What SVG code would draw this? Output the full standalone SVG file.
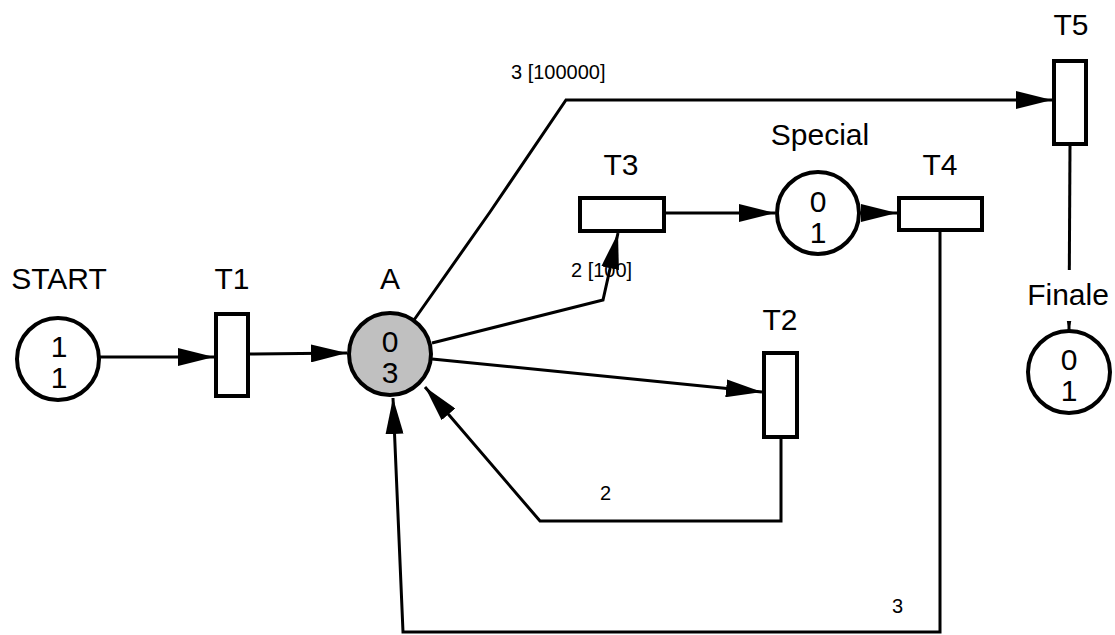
<svg xmlns="http://www.w3.org/2000/svg" width="1115" height="635" viewBox="0 0 1115 635">
<style>
.bg{fill:#ffffff}
.place{fill:#ffffff;stroke:#000;stroke-width:4}
.marked{fill:#c0c0c0}
.trans{fill:#ffffff;stroke:#000;stroke-width:4}
.arc{fill:none;stroke:#000;stroke-width:3;marker-end:url(#ah)}
.lbl{font-family:"Liberation Sans",Arial,sans-serif;font-size:30px;fill:#000;text-anchor:middle}
.tok{font-family:"Liberation Sans",Arial,sans-serif;font-size:30px;fill:#000;text-anchor:middle}
.albl{font-family:"Liberation Sans",Arial,sans-serif;font-size:20px;fill:#000}
</style>
<defs>
<marker id="ah" markerUnits="userSpaceOnUse" markerWidth="36" markerHeight="18" refX="36" refY="9" orient="auto">
<path d="M0,0 L36,9 L0,18 Z" fill="#000"/>
</marker>
</defs>
<rect class="bg" x="0" y="0" width="1115" height="635"/>
<g id="arc-labels">
<text class="albl" x="511" y="79">3 [100000]</text>
<text class="albl" x="571" y="277">2 [100]</text>
<text class="albl" x="600" y="500">2</text>
<text class="albl" x="892" y="613">3</text>
</g>
<g id="connectors">
<path class="arc" d="M99,357 L214,357"/>
<path class="arc" d="M249,354 L347,353"/>
<path class="arc" d="M414,320 L490,212 L566,100 L1052,100"/>
<path class="arc" d="M432,343 L603,300 L618,233"/>
<path class="arc" d="M432,359 L762,392"/>
<path class="arc" d="M781,437 L781,521 L540,521 L425,387"/>
<path class="arc" d="M940,230 L940,632 L403,632 L393,398"/>
<path class="arc" d="M664,213 L775,213"/>
<path class="arc" d="M860,213 L897,213"/>
<path class="arc" d="M1070,144 L1069,330"/>
</g>
<g id="START">
<circle class="place" cx="58" cy="359" r="41"/>
<text class="tok" x="59" y="357">1</text>
<text class="tok" x="59" y="388">1</text>
<text class="lbl" x="59" y="289">START</text>
</g>
<g id="T1">
<rect class="trans" x="216" y="314" width="32" height="82"/>
<text class="lbl" x="232" y="289">T1</text>
</g>
<g id="A">
<circle class="place marked" cx="390" cy="354" r="41"/>
<text class="tok" x="390" y="352">0</text>
<text class="tok" x="390" y="383">3</text>
<text class="lbl" x="390" y="289">A</text>
</g>
<g id="T3">
<rect class="trans" x="580" y="198" width="84" height="33"/>
<text class="lbl" x="621" y="175">T3</text>
</g>
<g id="Special">
<circle class="place" cx="818" cy="213" r="41"/>
<text class="tok" x="818" y="212">0</text>
<text class="tok" x="818" y="243">1</text>
<text class="lbl" x="820" y="145">Special</text>
</g>
<g id="T4">
<rect class="trans" x="899" y="198" width="83" height="32"/>
<text class="lbl" x="940" y="175">T4</text>
</g>
<g id="T5">
<rect class="trans" x="1054" y="61" width="32" height="83"/>
<text class="lbl" x="1071" y="35">T5</text>
</g>
<g id="T2">
<rect class="trans" x="764" y="353" width="33" height="84"/>
<text class="lbl" x="780" y="330">T2</text>
</g>
<g id="Finale">
<rect x="1022" y="270" width="93" height="51" fill="#ffffff"/>
<circle class="place" cx="1069" cy="372" r="41"/>
<text class="tok" x="1069" y="370">0</text>
<text class="tok" x="1069" y="401">1</text>
<text class="lbl" x="1068" y="305">Finale</text>
</g>
</svg>
